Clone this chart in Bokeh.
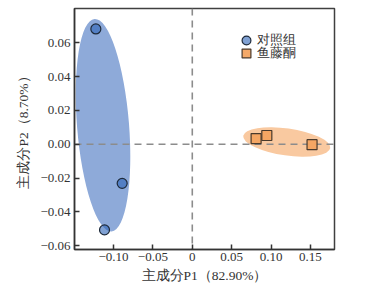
from bokeh.plotting import figure
from bokeh.models import (ColumnDataSource, Span, Legend, LegendItem, FixedTicker, Range1d)
from bokeh.embed import file_html
from bokeh.resources import INLINE

# ---- data ----
ctrl_x = [-0.1224, -0.0890, -0.1114]
ctrl_y = [0.0682, -0.0231, -0.0506]
rot_x = [0.0810, 0.0946, 0.1520]
rot_y = [0.0034, 0.0052, -0.0002]

ell_group = ["对照组", "鱼藤酮"]
ell_cx = [-0.1133, 0.1199]
ell_cy = [0.0113, 0.0014]
ell_w = [0.0660, 0.1116]
ell_h = [0.1260, 0.0160]
ell_angle = [0.08, -0.14]

x_ticks = [-0.15, -0.10, -0.05, 0, 0.05, 0.10, 0.15]
x_labels = ["−0.15", "−0.10", "−0.05", "0", "0.05", "0.10", "0.15"]
y_ticks = [-0.06, -0.04, -0.02, 0, 0.02, 0.04, 0.06]
y_labels = ["−0.06", "−0.04", "−0.02", "0.00", "0.02", "0.04", "0.06"]

x_title = "主成分P1（82.90%）"
y_title = "主成分P2（8.70%）"

FONT = "Liberation Serif"
BLUE = "#2b63b5"
BLUE_ELL = "#8eaad9"
ORANGE = "#f4a460"
ORANGE_ELL = "#f9c9a0"
EDGE = "#1e2a3a"

p = figure(width=379, height=289, output_backend="svg", toolbar_location=None,
           x_range=Range1d(-0.1495, 0.1805), y_range=Range1d(-0.0622, 0.0803),
           min_border_left=74, min_border_right=45, min_border_top=8, min_border_bottom=40)
p.background_fill_color = "white"
p.border_fill_color = "white"
p.xgrid.visible = False
p.ygrid.visible = False
p.outline_line_color = "#404040"
p.outline_line_width = 1.5
p.outline_line_alpha = 1

# ellipses
ell_src = ColumnDataSource(dict(x=ell_cx, y=ell_cy, w=ell_w, h=ell_h, a=ell_angle,
                                c=[BLUE_ELL, ORANGE_ELL]))
p.ellipse(x="x", y="y", width="w", height="h", angle="a", source=ell_src,
          fill_color="c", line_color=None, level="image")

# reference lines
for loc, dim in [(0, "height"), (0, "width")]:
    p.add_layout(Span(location=loc, dimension=dim, line_color="#8c8c8c",
                      line_width=1.6, line_dash="7 5", level="underlay"))

# points
r1 = p.scatter(ctrl_x, ctrl_y, marker="circle", size=10, fill_color=BLUE,
               fill_alpha=0.6, line_color=EDGE, line_width=1.2)
r2 = p.scatter(rot_x, rot_y, marker="square", size=10, fill_color=ORANGE,
               fill_alpha=0.95, line_color="#4a3a2c", line_width=1.2)

for rr, lab, loc in [(r1, ell_group[0], (161, 198)), (r2, ell_group[1], (161, 185))]:
    lg = Legend(items=[LegendItem(label=lab, renderers=[rr])], location=loc,
                glyph_width=22, glyph_height=22, label_standoff=-7, padding=0, margin=0,
                border_line_color=None, background_fill_alpha=0,
                label_text_font=FONT, label_text_font_size="12.5px",
                label_text_color="#333333", label_height=22)
    p.add_layout(lg)

# axes
for ax, ticks, labels in [(p.xaxis[0], x_ticks, x_labels), (p.yaxis[0], y_ticks, y_labels)]:
    ax.ticker = FixedTicker(ticks=ticks)
    ax.major_label_overrides = {t: l for t, l in zip(ticks, labels)}
    ax.major_tick_in = 5
    ax.major_tick_out = 0
    ax.minor_tick_line_color = None
    ax.major_tick_line_color = "#333333"
    ax.major_tick_line_width = 1.5
    ax.axis_line_color = "#333333"
    ax.axis_line_width = 1.5
    ax.major_label_text_font = FONT
    ax.major_label_text_font_size = "13px"
    ax.major_label_text_color = "#333333"
    ax.axis_label_text_font = FONT
    ax.axis_label_text_font_size = "13.5px"
    ax.axis_label_text_font_style = "normal"
    ax.axis_label_text_color = "#333333"

p.xaxis.axis_label = x_title
p.yaxis.axis_label = y_title
p.xaxis.major_label_standoff = 3
p.xaxis.axis_label_standoff = 4
p.yaxis.major_label_standoff = 4
p.yaxis.axis_label_standoff = 6

open("out.html", "w").write(file_html(p, INLINE))
